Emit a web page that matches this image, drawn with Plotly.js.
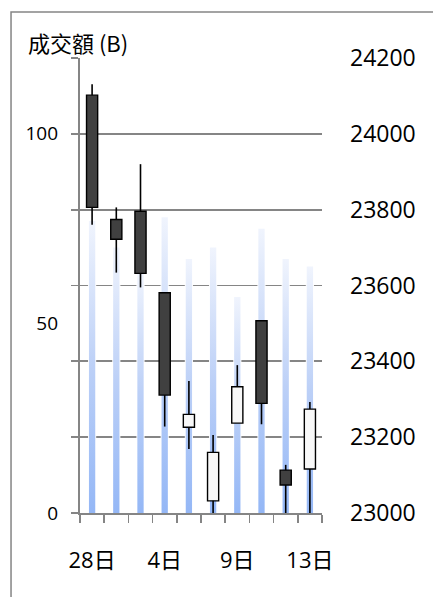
<!DOCTYPE html>
<html><head><meta charset="utf-8">
<script src="https://cdn.plot.ly/plotly-3.0.1.min.js"></script>
<style>html,body{margin:0;padding:0;background:#fff;}</style>
</head><body><div id="chart" style="width:433px;height:597px;"></div>
<script>
// ---- data ----
const xLabels = ['28日', '', '', '4日', '', '', '9日', '', '', '13日'];
const volume = [77, 70, 64, 78, 67, 70, 57, 75, 67, 65];           // 成交額 (B)
const openP  = [24102, 23774, 23796, 23581, 23226, 23032, 23237, 23507, 23113, 23116];
const closeP = [23806, 23722, 23632, 23311, 23260, 23160, 23333, 23289, 23074, 23274];
const highP  = [24131, 23806, 23920, 23581, 23348, 23206, 23390, 23507, 23127, 23293];
const lowP   = [23760, 23634, 23595, 23228, 23169, 22990, 23237, 23234, 22990, 22990];
const leftTicks = [0, 50, 100];

// ---- build traces ----
const xs = volume.map((_, i) => i + 1);
const gray = '#858585';
const traces = [];

// white halo behind volume bars (breaks gridlines)
traces.push({type: 'bar', x: xs, y: volume, width: 0.34, xaxis: 'x', yaxis: 'y',
  marker: {color: 'rgba(255,255,255,0.95)', line: {width: 0}}, hoverinfo: 'skip', showlegend: false});

// gradient volume bars
volume.forEach((v, i) => {
  const hw = 0.13;
  traces.push({type: 'scatter', mode: 'lines', xaxis: 'x', yaxis: 'y',
    x: [xs[i] - hw, xs[i] + hw, xs[i] + hw, xs[i] - hw, xs[i] - hw],
    y: [0, 0, v, v, 0],
    fill: 'toself',
    fillgradient: {type: 'vertical', colorscale: [[0, 'rgb(148,183,246)'], [0.5, 'rgb(188,208,247)'], [1, 'rgb(240,244,253)']]},
    line: {width: 0, color: 'rgba(0,0,0,0)'}, hoverinfo: 'skip', showlegend: false});
});

// candle bodies
const bodyBase = openP.map((o, i) => Math.min(o, closeP[i]));
const bodyH = openP.map((o, i) => Math.abs(closeP[i] - o));
const bodyColor = openP.map((o, i) => closeP[i] >= o ? '#f8f8f8' : '#404040');
traces.push({type: 'bar', x: xs, y: bodyH, base: bodyBase, width: 0.46, xaxis: 'x', yaxis: 'y2',
  marker: {color: bodyColor, line: {color: '#000', width: 1.4}}, hoverinfo: 'skip', showlegend: false});

// wicks
const wx = [], wy = [];
xs.forEach((x, i) => {
  const top = Math.max(openP[i], closeP[i]), bot = Math.min(openP[i], closeP[i]);
  wx.push(x, x, null, x, x, null);
  wy.push(highP[i], top, null, bot, lowP[i], null);
});
traces.push({type: 'scatter', mode: 'lines', x: wx, y: wy, xaxis: 'x', yaxis: 'y2', cliponaxis: false,
  line: {color: '#000', width: 1.6}, hoverinfo: 'skip', showlegend: false});

// dummy for label axes
traces.push({type: 'scatter', mode: 'markers', x: [1], y: [0], xaxis: 'x2', yaxis: 'y3',
  marker: {opacity: 0}, hoverinfo: 'skip', showlegend: false});

const layout = {
  width: 433, height: 597,
  margin: {l: 80, r: 111, t: 58, b: 84, pad: 0},
  paper_bgcolor: '#ffffff', plot_bgcolor: 'rgba(0,0,0,0)',
  showlegend: false, barmode: 'overlay',
  font: {family: 'Open Sans, sans-serif', color: '#000'},
  xaxis: {range: [0.5, 10.5], tickmode: 'linear', tick0: 0.5, dtick: 1, ticks: 'outside', ticklen: 8,
    tickwidth: 1.5, tickcolor: gray, showticklabels: false, showline: true, linecolor: gray, linewidth: 1.8,
    showgrid: false, zeroline: false, fixedrange: true},
  xaxis2: {overlaying: 'x', anchor: 'y', side: 'bottom', range: [0.5, 10.5], tickmode: 'array', tickvals: xs, ticktext: xLabels,
    ticks: '', showline: false, showgrid: false, zeroline: false, ticklabelstandoff: 32,
    tickfont: {size: 22, family: 'Open Sans, Noto Sans CJK TC', color: '#000'}},
  yaxis: {range: [0, 120], tickmode: 'linear', tick0: 0, dtick: 20, ticks: 'outside', ticklen: 7, tickwidth: 1.8,
    tickcolor: gray, showticklabels: false, showline: true, linecolor: gray, linewidth: 1.8, showgrid: false, zeroline: false},
  yaxis3: {overlaying: 'y', anchor: 'x', side: 'left', range: [0, 120], tickmode: 'array', tickvals: leftTicks,
    ticks: '', showline: false, showgrid: false, zeroline: false, ticklabelstandoff: 21,
    tickfont: {size: 19, family: 'Open Sans', color: '#000'}},
  yaxis2: {overlaying: 'y', anchor: 'x', side: 'right', range: [23000, 24200], tickmode: 'linear', tick0: 23000, dtick: 200,
    tickformat: 'd', ticks: '', showline: false, showgrid: true, gridcolor: gray, gridwidth: 1.8, zeroline: false, ticklabelstandoff: 27,
    tickfont: {size: 23, family: 'Open Sans', color: '#000'}},
  shapes: [{type: 'rect', xref: 'paper', yref: 'paper', x0: -0.285, x1: 1.6, y0: -0.3, y1: 1.101,
    line: {color: gray, width: 1.5}, fillcolor: 'rgba(0,0,0,0)', layer: 'below'}],
  annotations: [{text: '成交額 (B)', xref: 'paper', yref: 'paper', x: -0.222, y: 1.035, xanchor: 'left', yanchor: 'middle',
    showarrow: false, font: {size: 22, family: 'Noto Sans CJK TC', color: '#000'}}]
};

Plotly.newPlot('chart', traces, layout, {staticPlot: true, displayModeBar: false});
</script></body></html>
